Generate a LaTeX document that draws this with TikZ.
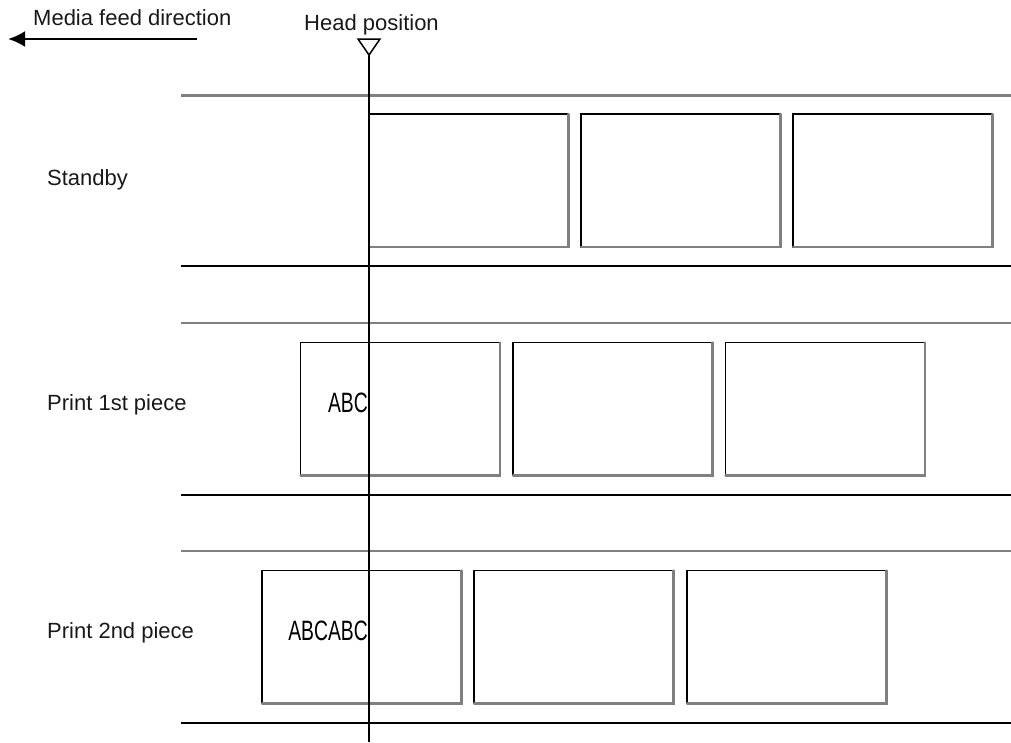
\documentclass[tikz,border=0pt]{standalone}
\usepackage{fontspec}
\setmainfont{Liberation Sans}
\usetikzlibrary{arrows.meta}
\tikzset{
  lbl/.style={inner sep=0pt, anchor=base west, font=\fontsize{22}{26}\selectfont, text=black!90},
  mbox/.style={draw=black, line width=1.5pt, minimum width=199.5pt, minimum height=133pt, inner sep=0pt, outer sep=0pt},
  shade/.style={draw=black!50, line width=2.2pt, line cap=round},
  topline/.style={draw=black!50, line width=2.5pt},
  botline/.style={draw=black, line width=1.6pt},
  headline/.style={draw=black, line width=1.6pt},
  prt/.style={inner sep=0pt, anchor=base east, font=\fontsize{28}{30}\selectfont}
}
\begin{document}
\begin{tikzpicture}[x=1pt,y=-1pt]
\useasboundingbox (0,0) rectangle (1011,742);
% header
\node[lbl] (mfd) at (33,25) {Media feed direction};
\coordinate (arS) at (197,39);
\coordinate (arE) at (8,39);
\draw[line width=2.6pt, -{Latex[length=17pt,width=16pt]}] (arS) -- (arE);
\node[lbl, anchor=base] (hpos) at (371.5,30) {Head position};
% row lines
\foreach \n/\yt/\yb in {a/95.5/266, b/323/495, c/551/723}{
  \coordinate (\n tl) at (181,\yt); \coordinate (\n tr) at (1011,\yt);
  \coordinate (\n bl) at (181,\yb); \coordinate (\n br) at (1011,\yb);
  \draw[topline] (\n tl) -- (\n tr);
  \draw[botline] (\n bl) -- (\n br);
}
% boxes
\foreach \n/\x/\y in {s1/468.75/180.5, s2/680.75/180.5, s3/892.75/180.5,
                      p1/400.25/409, p2/612.75/409, p3/825.25/409,
                      q1/361.75/637, q2/573.75/637, q3/786.75/637}{
  \node[mbox] (\n) at (\x,\y) {};
  \draw[shade] (\n.north east) -- (\n.south east) -- (\n.south west);
}
% labels
\node[lbl] (standby) at (47,185) {Standby};
\node[lbl] (first) at (47,410) {Print 1st piece};
\node[lbl] (second) at (47,638) {Print 2nd piece};
% printed text
\node[prt] (abc) at (368,412) {\scalebox{0.69}[1]{ABC}};
\node[prt] (abcabc) at (368,640) {\scalebox{0.69}[1]{ABCABC}};
% head position marker
\coordinate (t1) at (358,39);
\coordinate (t2) at (380,39);
\coordinate (hp) at (369,55);
\coordinate (hb) at (369,742);
\draw[line width=1.5pt, line join=miter] (t1) -- (t2) -- (hp) -- cycle;
\draw[headline] (hp) -- (hb);
\end{tikzpicture}
\end{document}
